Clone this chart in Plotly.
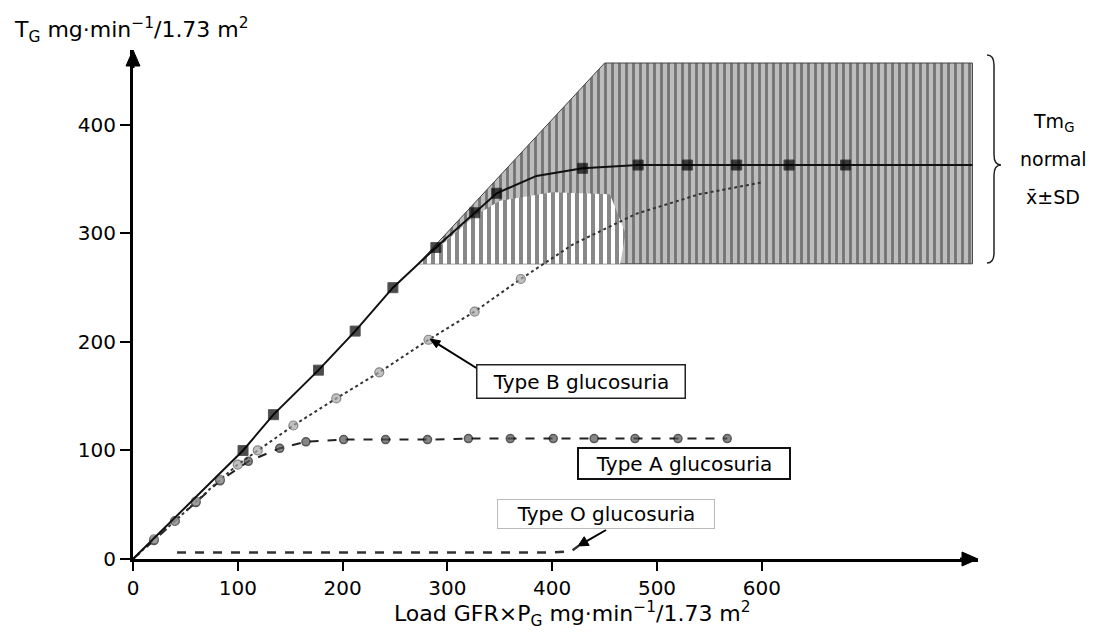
import plotly.graph_objects as go

# ---------------- data ----------------
# Normal TmG (mean): solid line with black squares
normal_x = [0, 105, 134, 177, 212, 248, 289, 326, 347, 385, 429, 482, 529, 576, 626, 680, 801]
normal_y = [0, 100, 133, 174, 210, 250, 287, 319, 337, 353, 360, 363, 363, 363, 363, 363, 363]
normal_marker = [0, 1, 1, 1, 1, 1, 1, 1, 1, 0, 1, 1, 1, 1, 1, 1, 0]

# Normal +/- SD band (hatched)
sd_x = [272, 450, 801, 801, 272]
sd_y = [272, 457, 457, 272, 272]

# Inner white-striped zone below the normal curve
inner_x = [272, 300, 326, 350, 400, 455, 470, 465, 272]
inner_y = [272, 294, 316, 330, 338, 336, 300, 272, 272]

# Type B glucosuria: dotted with grey circles
typeB_x = [0, 20, 40, 60, 83, 100, 119, 153, 194, 235, 282, 326, 370, 420, 480, 540, 600]
typeB_y = [0, 18, 35, 53, 73, 87, 100, 123, 148, 172, 202, 228, 258, 290, 318, 336, 347]
typeB_marker = [0, 1, 1, 1, 1, 1, 1, 1, 1, 1, 1, 1, 1, 0, 0, 0, 0]

# Type A glucosuria: dashed with dark circles
typeA_x = [0, 20, 40, 60, 83, 110, 140, 165, 201, 241, 281, 320, 360, 401, 440, 479, 520, 567]
typeA_y = [0, 17, 35, 52, 72, 90, 102, 108, 110, 110, 110, 111, 111, 111, 111, 111, 111, 111]

# Type O glucosuria: low dashed line
typeO_x = [42, 100, 200, 300, 400, 418, 425]
typeO_y = [6, 6, 6, 6, 6, 7, 12]

x_ticks = [0, 100, 200, 300, 400, 500, 600]
y_ticks = [0, 100, 200, 300, 400]

X_MAX = 806.3
Y_MAX = 469

FONT = "DejaVu Sans"

# page geometry (the html body has an 8px margin)
OFF = 8
PL, PT = 133, 50          # plot-area left / top in page pixels
W, H = 845, 509           # plot-area size
FW, FH = 1085, 626        # figure size

def px(pxx):
    return (pxx - PL) / W

def py(pyy):
    return (PT + H - pyy) / H

fig = go.Figure()

# hatched SD band
fig.add_trace(go.Scatter(
    x=sd_x, y=sd_y, mode="lines", fill="toself",
    line=dict(color="#444", width=1),
    fillpattern=dict(shape="|", fgcolor="#2a2a2a", bgcolor="#bdbdbd", size=7, solidity=0.4),
    hoverinfo="skip", showlegend=False))

fig.add_trace(go.Scatter(
    x=inner_x, y=inner_y, mode="lines", fill="toself",
    line=dict(color="rgba(0,0,0,0)", width=0),
    fillpattern=dict(shape="|", fgcolor="#111", bgcolor="#ffffff", size=8, solidity=0.5),
    hoverinfo="skip", showlegend=False))

# Type O
fig.add_trace(go.Scatter(
    x=typeO_x, y=typeO_y, mode="lines",
    line=dict(color="#333", width=2.5, dash="dash"),
    cliponaxis=False, hoverinfo="skip", showlegend=False))

# Type A
fig.add_trace(go.Scatter(
    x=typeA_x, y=typeA_y, mode="lines+markers",
    line=dict(color="#222", width=2, dash="dash"),
    marker=dict(symbol="circle", size=[0] + [8] * (len(typeA_x) - 1), color="#555",
                line=dict(color="#111", width=1.5)),
    cliponaxis=False, hoverinfo="skip", showlegend=False))

# Type B
fig.add_trace(go.Scatter(
    x=typeB_x, y=typeB_y, mode="lines+markers",
    line=dict(color="#333", width=2, dash="dot"),
    marker=dict(symbol="circle", size=[9 * m for m in typeB_marker], color="#a8a8a8",
                line=dict(color="#555", width=1.2)),
    cliponaxis=False, hoverinfo="skip", showlegend=False))

# Normal
fig.add_trace(go.Scatter(
    x=normal_x, y=normal_y, mode="lines+markers",
    line=dict(color="#111", width=2),
    marker=dict(symbol="square", size=[10 * m for m in normal_marker], color="#000"),
    cliponaxis=False, hoverinfo="skip", showlegend=False))

shapes = []

def arrow(tip, tail, head_len=10, head_w=5, width=2):
    import math
    tx, ty = tip
    sx, sy = tail
    dx, dy = tx - sx, ty - sy
    n = math.hypot(dx, dy)
    ux, uy = dx / n, dy / n
    bx, by = tx - ux * head_len, ty - uy * head_len
    pxn, pyn = -uy, ux
    shapes.append(dict(type="line", xref="paper", yref="paper",
                       x0=px(sx), y0=py(sy), x1=px(bx), y1=py(by),
                       line=dict(color="#000", width=width)))
    p1 = (bx + pxn * head_w, by + pyn * head_w)
    p2 = (bx - pxn * head_w, by - pyn * head_w)
    path = (f"M {px(tx)},{py(ty)} L {px(p1[0])},{py(p1[1])} "
            f"L {px(p2[0])},{py(p2[1])} Z")
    shapes.append(dict(type="path", path=path, xref="paper", yref="paper",
                       fillcolor="#000", line=dict(color="#000", width=1)))

# axis arrowheads
arrow((978, 559), (960, 559), head_len=16, head_w=7, width=3)
arrow((133, 50), (133, 68), head_len=16, head_w=7, width=3)
# label arrows
arrow((430, 339), (478, 369), head_len=10, head_w=4, width=2)
arrow((660, 447), (660, 463), head_len=9, head_w=5, width=2)
arrow((578, 546), (606, 530), head_len=10, head_w=5, width=2)

# curly brace
x0, x1, xt = px(987), px(994), px(1001)
yt, ym, yb = py(55), py(165), py(263)
d = 0.02
brace = (f"M {x0},{yt} Q {x1},{yt} {x1},{yt-d} L {x1},{ym+d} Q {x1},{ym} {xt},{ym} "
         f"Q {x1},{ym} {x1},{ym-d} L {x1},{yb+d} Q {x1},{yb} {x0},{yb}")
shapes.append(dict(type="path", path=brace, xref="paper", yref="paper",
                   line=dict(color="#222", width=1.5)))

ann = []
# axis titles
ann.append(dict(x=px(12), y=py(30), xref="paper", yref="paper",
                xanchor="left", yanchor="middle", showarrow=False,
                text="T<sub>G</sub> mg·min<sup>−1</sup>/1.73 m<sup>2</sup>",
                font=dict(family=FONT, size=22, color="#000")))
ann.append(dict(x=px(572), y=py(614), xref="paper", yref="paper",
                xanchor="center", yanchor="middle", showarrow=False,
                text="Load GFR×P<sub>G</sub> mg·min<sup>−1</sup>/1.73 m<sup>2</sup>",
                font=dict(family=FONT, size=22, color="#000")))

# series labels (boxed)
ann.append(dict(x=px(581), y=py(381), xref="paper", yref="paper",
                showarrow=False, text="Type B glucosuria", width=203, height=28,
                font=dict(family=FONT, size=20, color="#000"),
                bordercolor="#222", borderwidth=1.5, borderpad=2, bgcolor="#fff"))
ann.append(dict(x=px(684), y=py(480), xref="paper", yref="paper",
                showarrow=False, text="Type A glucosuria", width=206, height=25,
                font=dict(family=FONT, size=20, color="#000"),
                bordercolor="#111", borderwidth=2, borderpad=2, bgcolor="#fff"))
ann.append(dict(x=px(715), y=py(529), xref="paper", yref="paper",
                showarrow=False, text="Type O glucosuria", width=212, height=24,
                font=dict(family=FONT, size=20, color="#000"),
                bordercolor="#bbb", borderwidth=1, borderpad=2, bgcolor="#fff"))

# right-side label
for txt, yy in [("Tm<sub>G</sub>", 122), ("normal", 159), ("x̄±SD", 197)]:
    ann.append(dict(x=px(1053), y=py(yy), xref="paper", yref="paper",
                    showarrow=False, text=txt, xanchor="center", yanchor="middle",
                    font=dict(family=FONT, size=19, color="#000")))

fig.update_layout(
    width=FW, height=FH,
    margin=dict(l=PL - OFF, r=FW - (PL - OFF) - W, t=PT - OFF, b=FH - (PT - OFF) - H),
    paper_bgcolor="#fff", plot_bgcolor="#fff",
    annotations=ann,
    shapes=shapes,
    xaxis=dict(range=[0, X_MAX], tickvals=x_ticks, showgrid=False, zeroline=False,
               showline=True, linewidth=3, linecolor="#000",
               ticks="outside", ticklen=9, tickwidth=2, tickcolor="#000",
               tickfont=dict(family=FONT, size=20, color="#000")),
    yaxis=dict(range=[0, Y_MAX], tickvals=y_ticks, showgrid=False, zeroline=False,
               showline=True, linewidth=3, linecolor="#000",
               ticks="outside", ticklen=10, tickwidth=2, tickcolor="#000",
               tickfont=dict(family=FONT, size=20, color="#000")),
    showlegend=False,
)

fig.write_html("out.html")
